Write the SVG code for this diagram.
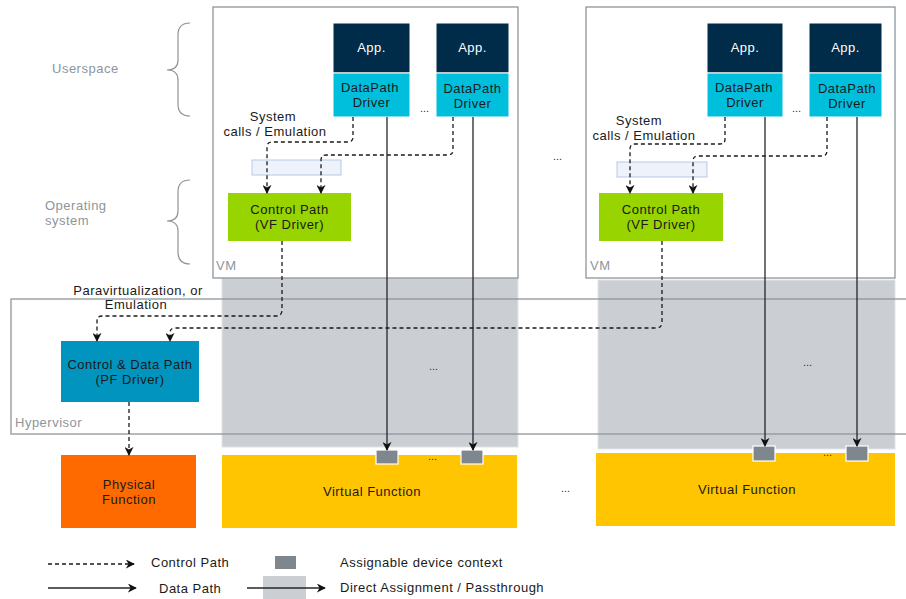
<svg xmlns="http://www.w3.org/2000/svg" width="906" height="599" viewBox="0 0 906 599">
  <style>
    text { font-family: "Liberation Sans", Arial, sans-serif; font-size: 13px; letter-spacing: 0.5px; fill: #1a1a1a; }
    .mid { text-anchor: middle; }
    .light { fill: #ffffff; }
    .muted { fill: #8d959c; }
    .dots { font-size: 11px; letter-spacing: 0; fill: #333; }
    .frame { fill: none; stroke: #8d959c; stroke-width: 1.3; }
    .vm { fill: #ffffff; stroke: #8d959c; stroke-width: 1.3; }
    .pass { fill: #cbcfd3; stroke: #e2e4e7; stroke-width: 1; }
    .app { fill: #002b49; stroke: #ffffff; stroke-width: 1; }
    .dp { fill: #00bfdc; stroke: #ffffff; stroke-width: 1; }
    .cp { fill: #97d400; }
    .pf { fill: #0094bf; }
    .phys { fill: #ff6a00; }
    .vf { fill: #ffc500; }
    .ctx { fill: #7e868e; stroke: #ffffff; stroke-width: 1.2; }
    .sys { fill: #edf2fb; stroke: #b9c9e6; stroke-width: 1; }
    .ctl { fill: none; stroke: #1a1a1a; stroke-width: 1.3; stroke-dasharray: 4 3; marker-end: url(#arrow); }
    .data { fill: none; stroke: #262626; stroke-width: 1.3; marker-end: url(#arrow); }
    .brace { fill: none; stroke: #8d959c; stroke-width: 1.2; }
  </style>
  <defs>
    <marker id="arrow" viewBox="0 0 10 10" refX="9" refY="5" markerWidth="9" markerHeight="9" markerUnits="userSpaceOnUse" orient="auto">
      <path d="M0,0 L10,5 L0,10 L3,5 Z" fill="#111111"/>
    </marker>
  </defs>

  <!-- layer labels with braces -->
  <g id="layer-userspace">
    <text class="muted" x="52" y="73">Userspace</text>
    <path class="brace" d="M190,23 Q178,23 178,35 V60 Q178,70 167,70 Q178,70 178,80 V104 Q178,116 190,116"/>
  </g>
  <g id="layer-os">
    <text class="muted" x="45" y="210">Operating</text>
    <text class="muted" x="45" y="225">system</text>
    <path class="brace" d="M190,180 Q178,180 178,192 V211 Q178,221 167,221 Q178,221 178,231 V252 Q178,264 190,264"/>
  </g>

  <!-- direct assignment regions -->
  <g id="passthrough-1"><rect class="pass" x="222" y="278" width="296" height="169"/></g>
  <g id="passthrough-2"><rect class="pass" x="598" y="280" width="297" height="169"/></g>

  <!-- hypervisor -->
  <g id="hypervisor">
    <rect class="frame" x="11" y="299" width="910" height="135"/>
    <text class="muted" x="15" y="427">Hypervisor</text>
  </g>

  <!-- VM 1 -->
  <g id="vm-1">
    <rect class="vm" x="213" y="7" width="305" height="271"/>
    <text class="muted" x="216" y="270">VM</text>
  </g>
  <g id="vm1-app-1"><rect class="app" x="333" y="23" width="77" height="50"/><text class="mid light" x="371.5" y="52">App.</text></g>
  <g id="vm1-dp-1"><rect class="dp" x="333" y="73" width="77" height="44"/><text class="mid" x="370" y="92">DataPath</text><text class="mid" x="371.5" y="107">Driver</text></g>
  <g id="vm1-app-2"><rect class="app" x="436" y="23" width="73" height="50"/><text class="mid light" x="472.5" y="52">App.</text></g>
  <g id="vm1-dp-2"><rect class="dp" x="436" y="73" width="73" height="44"/><text class="mid" x="472.5" y="93">DataPath</text><text class="mid" x="472.5" y="108">Driver</text></g>
  <text class="dots" x="420" y="112">...</text>
  <g id="vm1-syscalls">
    <rect class="sys" x="252" y="160" width="89" height="15"/>
    <text class="mid" x="273" y="121">System</text>
    <text class="mid" x="275" y="136">calls / Emulation</text>
  </g>
  <g id="vm1-control"><rect class="cp" x="228" y="193" width="123" height="48"/><text class="mid" x="289.5" y="214">Control Path</text><text class="mid" x="289.5" y="229">(VF Driver)</text></g>

  <!-- VM 2 -->
  <g id="vm-2">
    <rect class="vm" x="586" y="7" width="309" height="271"/>
    <text class="muted" x="590" y="270">VM</text>
  </g>
  <g id="vm2-app-1"><rect class="app" x="707" y="23" width="76" height="50"/><text class="mid light" x="745" y="52">App.</text></g>
  <g id="vm2-dp-1"><rect class="dp" x="707" y="73" width="76" height="44"/><text class="mid" x="744" y="92">DataPath</text><text class="mid" x="745" y="107">Driver</text></g>
  <g id="vm2-app-2"><rect class="app" x="809" y="23" width="73" height="50"/><text class="mid light" x="845.5" y="52">App.</text></g>
  <g id="vm2-dp-2"><rect class="dp" x="809" y="73" width="73" height="44"/><text class="mid" x="847" y="93">DataPath</text><text class="mid" x="847" y="108">Driver</text></g>
  <text class="dots" x="792" y="112">...</text>
  <g id="vm2-syscalls">
    <rect class="sys" x="617" y="162" width="90" height="15"/>
    <text class="mid" x="639" y="125">System</text>
    <text class="mid" x="644" y="140">calls / Emulation</text>
  </g>
  <g id="vm2-control"><rect class="cp" x="599" y="193" width="124" height="48"/><text class="mid" x="661" y="214">Control Path</text><text class="mid" x="661" y="229">(VF Driver)</text></g>

  <!-- hypervisor driver and physical function -->
  <g id="pf-driver"><rect class="pf" x="61" y="341" width="138" height="61"/><text class="mid" x="130" y="369">Control &amp; Data Path</text><text class="mid" x="130" y="384">(PF Driver)</text></g>
  <g id="paravirt-label">
    <text class="mid" x="138" y="295">Paravirtualization, or</text>
    <text class="mid" x="136" y="309">Emulation</text>
  </g>
  <g id="physical-function"><rect class="phys" x="61" y="455" width="135" height="73"/><text class="mid" x="129" y="489">Physical</text><text class="mid" x="129" y="504">Function</text></g>

  <!-- virtual functions -->
  <g id="vf-1">
    <rect class="vf" x="222" y="455" width="295" height="73"/>
    <text class="mid" x="372" y="496">Virtual Function</text>
    <rect class="ctx" x="376" y="450" width="22" height="14"/>
    <rect class="ctx" x="461" y="450" width="22" height="14"/>
    <text class="dots" x="428" y="460">...</text>
  </g>
  <g id="vf-2">
    <rect class="vf" x="596" y="453" width="299" height="73"/>
    <text class="mid" x="747" y="494">Virtual Function</text>
    <rect class="ctx" x="753" y="446" width="22" height="15"/>
    <rect class="ctx" x="846" y="446" width="22" height="15"/>
    <text class="dots" x="823" y="456">...</text>
  </g>

  <text class="dots" x="429" y="370">...</text>
  <text class="dots" x="803" y="366">...</text>
  <text class="dots" x="553" y="160">...</text>
  <text class="dots" x="561" y="492">...</text>

  <!-- connectors -->
  <g id="connectors">
    <path class="ctl" d="M353,117 V137 Q353,142 348,142 H272 Q267,142 267,147 V193"/>
    <path class="ctl" d="M453,117 V150 Q453,155 448,155 H326 Q321,155 321,160 V193"/>
    <path class="ctl" d="M725,117 V139 Q725,144 720,144 H635 Q630,144 630,149 V193"/>
    <path class="ctl" d="M827,117 V151 Q827,156 822,156 H698 Q693,156 693,161 V193"/>
    <path class="ctl" d="M282,241 V310 Q282,316 276,316 H102 Q97,316 97,321 V341"/>
    <path class="ctl" d="M662,241 V322 Q662,328 656,328 H175 Q170,328 170,333 V341"/>
    <path class="ctl" d="M129,402 V455"/>
    <path class="data" d="M387,117 V450"/>
    <path class="data" d="M473,117 V450"/>
    <path class="data" d="M765,117 V446"/>
    <path class="data" d="M857,117 V446"/>
  </g>

  <!-- legend -->
  <g id="legend">
    <path class="ctl" d="M48,564 H134"/>
    <text x="151" y="567">Control Path</text>
    <path class="data" d="M48,588 H136"/>
    <text x="159" y="593">Data Path</text>
    <rect fill="#7e868e" x="275" y="556" width="21" height="13"/>
    <text x="340" y="567">Assignable device context</text>
    <rect fill="#cbcfd3" x="263" y="576" width="43" height="23"/>
    <path class="data" d="M247,588 H325"/>
    <text x="340" y="592">Direct Assignment / Passthrough</text>
  </g>
</svg>
